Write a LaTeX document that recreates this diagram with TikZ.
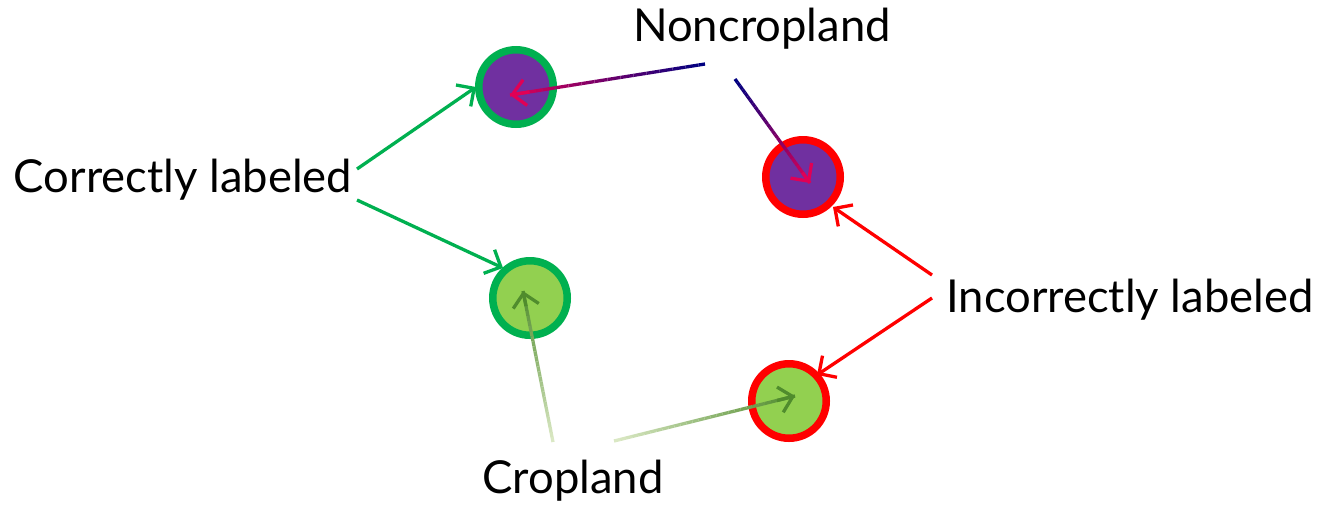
\documentclass[tikz,border=0pt]{standalone}
\usepackage{fontspec}
\setmainfont{Lato}
\usetikzlibrary{arrows.meta,calc}
\definecolor{cpurple}{RGB}{112,48,160}
\definecolor{clgreen}{RGB}{146,208,80}
\definecolor{cgreen}{RGB}{0,176,80}
\definecolor{cred}{RGB}{255,0,0}
\definecolor{cnavy}{RGB}{0,0,128}
\definecolor{ccrim}{RGB}{225,0,85}
\definecolor{cpale}{RGB}{218,232,196}
\definecolor{cdgreen}{RGB}{80,140,45}
\newcommand\gline[4]{%
  \foreach \i in {0,...,29}{%
    \pgfmathsetmacro\ga{\i/30}%
    \pgfmathsetmacro\gb{(\i+1)/30}%
    \pgfmathtruncatemacro\gp{\i*100/29}%
    \draw[line width=3.3, color=#4!\gp!#3] ($(#1)!\ga!(#2)$) -- ($(#1)!\gb!(#2)$);
  }%
  \draw[conn, #4] ($(#1)!0.9!(#2)$) -- (#2);
}
\begin{document}
\begin{tikzpicture}[x=1pt,y=-1pt,
  lbl/.style={font=\fontsize{45.4}{54}\selectfont, inner sep=0pt},
  dot/.style={circle, minimum size=74.5, inner sep=0pt, line width=7.5},
  conn/.style={line width=3.3, -{Straight Barb[length=13,width=26,line width=3.3]}}]
\useasboundingbox (0,0) rectangle (1322,507);
\node[dot, draw=cgreen, fill=cpurple] (c1) at (516,87) {};
\node[dot, draw=cred, fill=cpurple] (c2) at (803,177) {};
\node[dot, draw=cgreen, fill=clgreen] (c3) at (530,298) {};
\node[dot, draw=cred, fill=clgreen] (c4) at (789,401) {};
\node[lbl] (non) at (762,29) {Noncropland};
\node[lbl] (cor) at (183,180) {Correctly labeled};
\node[lbl] (inc) at (1130,300) {Incorrectly labeled};
\node[lbl] (crop) at (573,481) {Cropland};
% free ends
\coordinate (g1s) at (357,169); \coordinate (g1e) at (476,87);
\coordinate (g2s) at (357,200); \coordinate (g2e) at (503,268);
\coordinate (n1s) at (705,64);  \coordinate (n1e) at (510,95);
\coordinate (n2s) at (735,79);  \coordinate (n2e) at (810,183);
\coordinate (r1s) at (932,275); \coordinate (r1e) at (833,207);
\coordinate (r2s) at (932,298); \coordinate (r2e) at (817,375);
\coordinate (p1s) at (553,442); \coordinate (p1e) at (523,291);
\coordinate (p2s) at (614,441); \coordinate (p2e) at (795,396);
\draw[conn, cgreen] (g1s) -- (g1e);
\draw[conn, cgreen] (g2s) -- (g2e);
\draw[conn, cred] (r1s) -- (r1e);
\draw[conn, cred] (r2s) -- (r2e);
\gline{n1s}{n1e}{cnavy}{ccrim}
\gline{n2s}{n2e}{cnavy}{ccrim}
\gline{p1s}{p1e}{cpale}{cdgreen}
\gline{p2s}{p2e}{cpale}{cdgreen}
\end{tikzpicture}
\end{document}
